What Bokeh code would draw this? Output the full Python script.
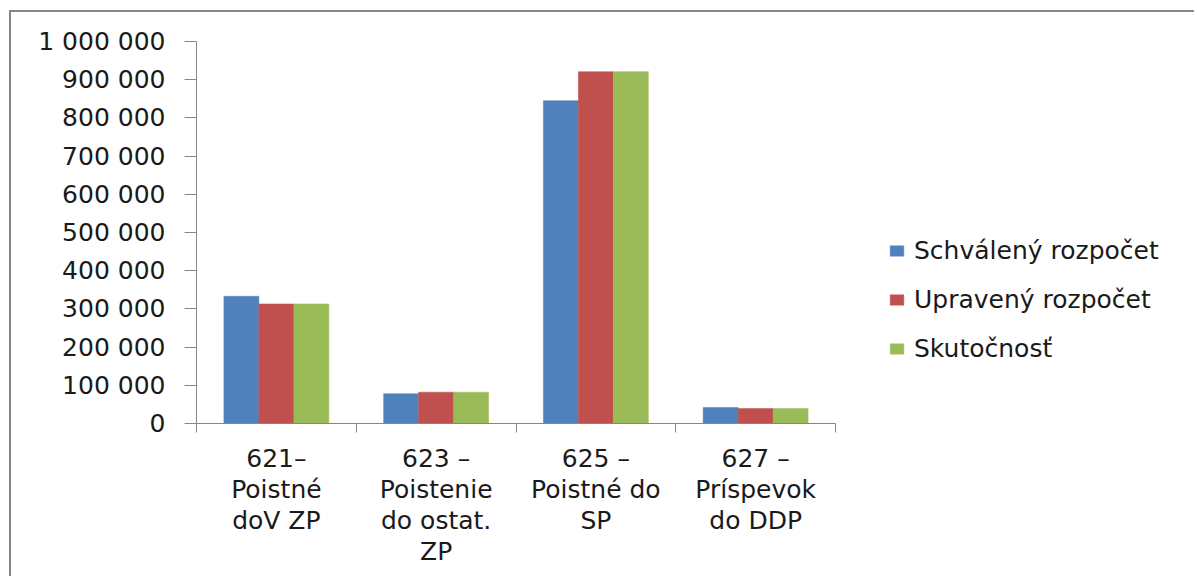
from bokeh.plotting import figure
from bokeh.models import (ColumnDataSource, Range1d, FixedTicker, LinearAxis,
                          Legend, LegendItem)
from bokeh.transform import dodge
from bokeh.embed import file_html
from bokeh.resources import INLINE

# ---- data ----
categories = ["621–\nPoistné\ndoV ZP", "623 –\nPoistenie\ndo ostat.\nZP",
              "625 –\nPoistné do\nSP", "627 –\nPríspevok\ndo DDP"]
schvaleny = [333000, 78000, 845000, 42000]
upraveny = [313000, 82000, 921000, 39000]
skutocnost = [313000, 82000, 921000, 39000]
series_names = ["Schválený rozpočet", "Upravený rozpočet", "Skutočnosť"]
series_colors = ["#4F81BD", "#C0504D", "#9BBB59"]
y_ticks = [0, 100000, 200000, 300000, 400000, 500000, 600000, 700000,
           800000, 900000, 1000000]
y_tick_labels = ["0", "100 000", "200 000", "300 000", "400 000", "500 000",
                 "600 000", "700 000", "800 000", "900 000", "1 000 000"]

FONT = "DejaVu Sans"
GREY = "#868686"
FS = "25px"

# layout: the category area is 639 px wide; the frame continues to the right
# so that the legend can sit inside it
W, H = 1185, 566
LEFT, RIGHT, TOP, BOTTOM = 185, 5, 29, 155
PLOT_W = 639
FRAME_W = W - LEFT - RIGHT
n = len(categories)
x_end = n * FRAME_W / PLOT_W

xpos = [i + 0.5 for i in range(n)]
source = ColumnDataSource(dict(x=xpos, s=schvaleny, u=upraveny, k=skutocnost))

p = figure(width=W, height=H, output_backend="svg", toolbar_location=None,
           x_range=Range1d(0, x_end), y_range=Range1d(0, 1000000),
           x_axis_type=None, y_axis_type=None,
           min_border_left=LEFT, min_border_right=RIGHT,
           min_border_top=TOP, min_border_bottom=BOTTOM)
p.outline_line_color = None
p.styles = {"margin-left": "9px", "margin-top": "10px",
            "border-left": "2px solid " + GREY, "border-top": "2px solid " + GREY}

bw = 0.219
renderers = []
for field, off, col in zip(["s", "u", "k"], [-bw, 0, bw], series_colors):
    r = p.vbar(x=dodge("x", off, range=p.x_range), top=field, width=bw,
               source=source, fill_color=col, line_color=col, line_width=0.5)
    renderers.append(r)

# y axis
yax = LinearAxis(ticker=FixedTicker(ticks=y_ticks, minor_ticks=[]))
yax.major_label_overrides = {t: l for t, l in zip(y_ticks, y_tick_labels)}
yax.axis_line_color = GREY
yax.major_tick_line_color = GREY
yax.major_tick_out = 12
yax.major_tick_in = 0
yax.major_label_standoff = 19
yax.major_label_text_font = FONT
yax.major_label_text_font_size = FS
yax.major_label_text_color = "#1a1a1a"
p.add_layout(yax, "left")

# x axis
xax = LinearAxis(ticker=FixedTicker(ticks=xpos, minor_ticks=list(range(n + 1))),
                 bounds=(0, n))
xax.major_label_overrides = {t: l for t, l in zip(xpos, categories)}
xax.axis_line_color = GREY
xax.major_tick_line_color = None
xax.major_tick_out = 0
xax.major_tick_in = 0
xax.minor_tick_line_color = GREY
xax.minor_tick_out = 9
xax.minor_tick_in = 0
xax.major_label_standoff = 11
xax.major_label_text_font = FONT
xax.major_label_text_font_size = FS
xax.major_label_text_color = "#1a1a1a"
xax.major_label_text_line_height = 1.08
p.add_layout(xax, "below")

p.ygrid.ticker = FixedTicker(ticks=y_ticks)
p.ygrid.grid_line_color = GREY
p.ygrid.grid_line_width = 1.2
p.ygrid.cross_bounds = (0, n)
p.xgrid.grid_line_color = None

legend = Legend(items=[LegendItem(label=nm, renderers=[r]) for nm, r in zip(series_names, renderers)],
                location=(692, 60), orientation="vertical",
                label_text_font=FONT, label_text_font_size=FS,
                label_text_color="#1a1a1a", glyph_width=17, glyph_height=13,
                label_standoff=9, spacing=20, padding=0, margin=0,
                border_line_color=None, background_fill_alpha=0)
p.add_layout(legend, "center")

open("out.html", "w").write(file_html(p, INLINE))
